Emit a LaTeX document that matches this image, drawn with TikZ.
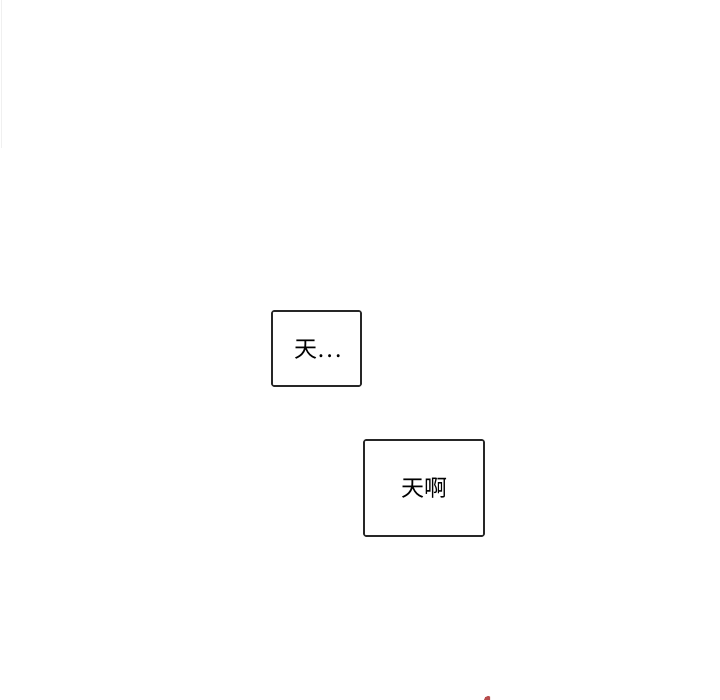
\documentclass[tikz,border=0pt]{standalone}
\usepackage{fontspec}
\newfontfamily\cjk{Noto Sans CJK SC}
\begin{document}
\begin{tikzpicture}[x=1pt,y=1pt,
  panelbox/.style={draw=black!85,line width=1.6pt,rounded corners=2pt,fill=white,inner sep=0pt},
  speech/.style={font=\cjk\fontsize{23}{26}\selectfont,text=black}]
\useasboundingbox[fill=white] (0,0) rectangle (720,700);
\draw[black!6,line width=1pt] (1,700) -- (1,552);
\node[panelbox,minimum width=89pt,minimum height=75pt] (b1) at (316.5,351.5) {};
\node[speech] (t1) at (318,350.5) {天…};
\node[panelbox,minimum width=120pt,minimum height=96pt] (b2) at (424,212) {};
\node[speech] (t2) at (b2.center) {天啊};
\fill[red!60!black,opacity=0.7] (484,0) arc[start angle=180,end angle=60,radius=4pt] -- (490,0) -- cycle;
\end{tikzpicture}
\end{document}
